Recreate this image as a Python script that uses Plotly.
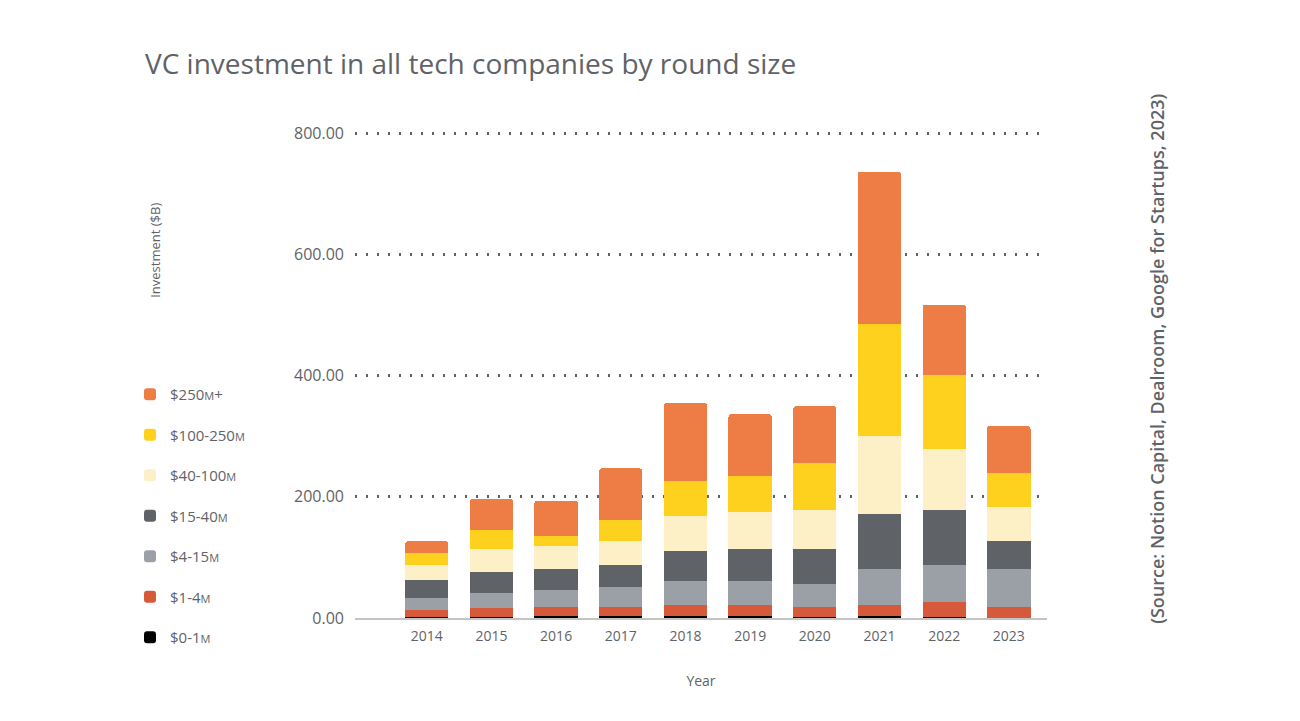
import plotly.graph_objects as go

years = ["2014", "2015", "2016", "2017", "2018", "2019", "2020", "2021", "2022", "2023"]

series_names = ["$0-1M", "$1-4M", "$4-15M", "$15-40M", "$40-100M", "$100-250M", "$250M+"]

v_0_1 = [1.5, 2.0, 3.9, 2.8, 3.9, 3.9, 2.2, 3.9, 1.7, 0.5]
v_1_4 = [11.7, 14.0, 14.8, 15.9, 17.6, 17.6, 16.5, 17.6, 24.2, 18.2]
v_4_15 = [19.3, 25.9, 28.1, 33.1, 40.2, 39.7, 38.1, 59.5, 61.7, 62.8]
v_15_40 = [30.3, 34.1, 33.6, 35.8, 49.6, 52.9, 57.3, 89.8, 90.9, 45.8]
v_40_100 = [24.3, 38.6, 39.2, 39.1, 56.8, 60.6, 63.3, 129.5, 100.9, 56.2]
v_100_250 = [19.8, 30.3, 15.4, 34.7, 57.3, 58.9, 78.8, 185.0, 121.6, 55.1]
v_250_plus = [19.8, 51.8, 58.4, 85.4, 128.9, 102.5, 93.1, 251.2, 115.7, 78.2]

colors = ["#000000", "#D65A3A", "#9AA0A6", "#5F6368", "#FDEFC6", "#FDD11D", "#EE7D45"]
values = [v_0_1, v_1_4, v_4_15, v_15_40, v_40_100, v_100_250, v_250_plus]

def legend_label(name):
    return name.replace("M", "<span style='font-size:11px'>M</span>")

fig = go.Figure()
for i, (name, vals, col) in enumerate(zip(series_names, values, colors)):
    fig.add_trace(go.Bar(
        x=years, y=vals, name=legend_label(name), marker_color=col,
        marker_line_width=0, legendgroup=name, legendrank=1000 - i,
    ))

grey = "#5F6368"
FONT = "Open Sans, sans-serif"
fig.update_layout(
    width=1300, height=721,
    barmode="stack", bargap=0.33, barcornerradius=3,
    plot_bgcolor="white", paper_bgcolor="white",
    font=dict(family=FONT, color=grey),
    margin=dict(l=355, r=253, t=121, b=103),
    title=dict(text="VC investment in all tech companies by round size",
               x=145/1300, xanchor="left", y=1-64/721, yanchor="middle",
               font=dict(size=28, color=grey)),
    showlegend=True,
    legend=dict(xref="container", yref="container", x=130/1300, y=1-378/721,
                xanchor="left", yanchor="top", traceorder="grouped",
                tracegroupgap=18, font=dict(size=15, color=grey),
                bgcolor="rgba(0,0,0,0)"),
    xaxis=dict(range=[-1.11, 9.59], showgrid=False, showline=True,
               linecolor="#C4C4C4", linewidth=1.5, ticks="", ticklabelstandoff=4,
               tickfont=dict(size=14, color=grey),
               title=dict(text="Year", font=dict(size=14, color=grey), standoff=33)),
    yaxis=dict(range=[0, 820], tickvals=[0, 200, 400, 600, 800], tickformat=".2f",
               showgrid=True, gridcolor="#5F6368", gridwidth=2.5, griddash="2px,9px",
               zeroline=False, showline=False, ticks="", ticklabelstandoff=10,
               tickfont=dict(size=16, color=grey)),
)

fig.add_annotation(text="Investment ($B)", xref="paper", yref="paper",
                   x=(155-355)/692, y=(618.3-250)/497.1, textangle=-90,
                   xanchor="center", yanchor="middle",
                   showarrow=False, font=dict(size=13, color=grey))
fig.add_annotation(text="(Source: Notion Capital, Dealroom, Google for Startups, 2023)",
                   xref="paper", yref="paper", x=(1157-355)/692, y=(618.3-359)/497.1,
                   textangle=-90, xanchor="center", yanchor="middle", showarrow=False,
                   font=dict(size=18, color=grey, weight=600))

fig.write_html("out.html")
